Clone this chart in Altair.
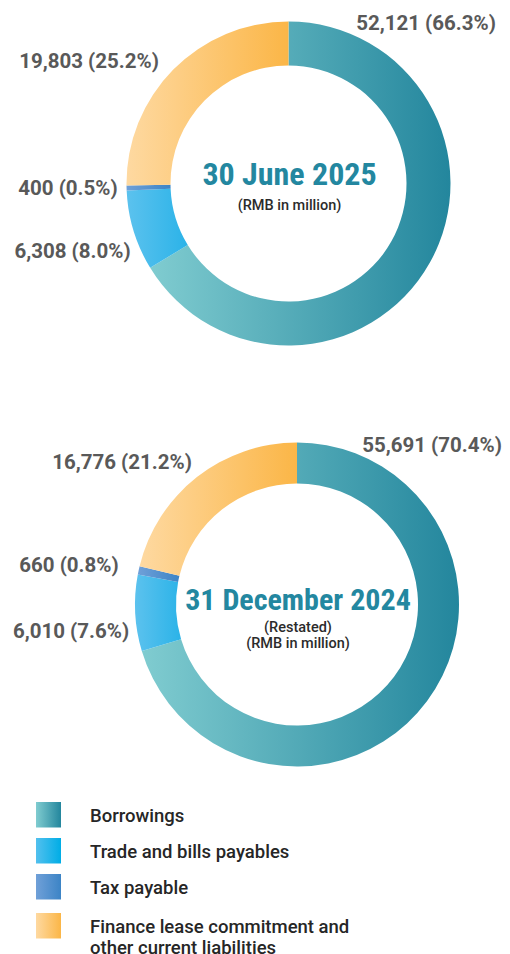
import altair as alt
import pandas as pd

# ---- data ----
categories = [
    "Borrowings",
    "Trade and bills payables",
    "Tax payable",
    "Finance lease commitment and other current liabilities",
]
values_2025 = [52121, 6308, 400, 19803]
values_2024 = [55691, 6010, 660, 16776]
pie_titles = ["30 June 2025", "31 December 2024"]
pie_subtitles = [["(RMB in million)"], ["(Restated)", "(RMB in million)"]]
legend_labels = [
    ["Borrowings"],
    ["Trade and bills payables"],
    ["Tax payable"],
    ["Finance lease commitment and", "other current liabilities"],
]

rows = []
for pie, vals in (("2025", values_2025), ("2024", values_2024)):
    for i, (c, v) in enumerate(zip(categories, vals)):
        rows.append({"pie": pie, "category": c, "order": i, "value": v})
df = pd.DataFrame(rows)

# ---- styles ----
def grad(c0, c1):
    return {
        "gradient": "linear",
        "x1": 0, "y1": 0, "x2": 1, "y2": 0,
        "stops": [{"offset": 0, "color": c0}, {"offset": 1, "color": c1}],
    }

fills = [
    grad("#80ccd0", "#23869d"),
    grad("#5cc2ee", "#2bb3e8"),
    grad("#70a0d8", "#3c84c6"),
    grad("#fed9a1", "#fbb647"),
]
legend_fills = [
    grad("#80ccd0", "#23869d"),
    grad("#52c0ee", "#00ade6"),
    grad("#70a0d8", "#3c84c6"),
    grad("#fed9a1", "#fbb647"),
]

pies = {
    "2025": {"cx": 280.5, "cy": 175.5, "r": 162, "r2": 118,
             "title_y": 177, "title_size": 32, "sub_y": 201.5,
             "labels": [(418, 16), (64.5, 244), (60, 181), (81, 54)]},
    "2024": {"cx": 289, "cy": 596.5, "r": 162, "r2": 121,
             "title_y": 602, "title_size": 30, "sub_y": 623.5,
             "labels": [(424, 438), (63, 624), (61, 558), (114, 455)]},
}

theta_scale = alt.Scale(domain=[0, 1])
label_font = "Roboto"
text_font = "Roboto"
layers = []
for pi, (pie, cfg) in enumerate(pies.items()):
    for i, c in enumerate(categories):
        base = alt.Chart().transform_filter(
            (alt.datum.pie == pie) & (alt.datum.category == c)
        )
        layers.append(
            base.mark_arc(radius=cfg["r"], radius2=cfg["r2"], fill=fills[i]).encode(
                theta=alt.Theta("start:Q", scale=theta_scale),
                theta2="end:Q",
                x=alt.value(cfg["cx"]),
                y=alt.value(cfg["cy"]),
            )
        )
        lx, ly = cfg["labels"][i]
        layers.append(
            base.mark_text(
                font=label_font, fontSize=20.5, fontWeight="bold", color="#595959",
                align="center", baseline="middle",
            ).encode(text="label:N", x=alt.value(lx), y=alt.value(ly))
        )
    one = alt.Chart().transform_filter(
        (alt.datum.pie == pie) & (alt.datum.order == 0)
    )
    layers.append(
        one.mark_text(
            font="Liberation Sans Narrow, Roboto Condensed, Roboto",
            fontSize=cfg["title_size"], fontWeight="bold", color="#2387a0",
            align="center", baseline="alphabetic",
        ).encode(text=alt.value(pie_titles[pi]), x=alt.value(cfg["cx"] + 1),
                 y=alt.value(cfg["title_y"]))
    )
    layers.append(
        one.mark_text(
            font=text_font, fontSize=14.5, fontWeight=500, color="#2b2b2b", lineHeight=16,
            align="center", baseline="alphabetic",
        ).encode(text=alt.value(pie_subtitles[pi]), x=alt.value(cfg["cx"] + 1),
                 y=alt.value(cfg["sub_y"]))
    )

# legend
legend_base = [814, 850, 886, 925]
for i, c in enumerate(categories):
    one = alt.Chart().transform_filter(
        (alt.datum.pie == "2025") & (alt.datum.category == c)
    )
    layers.append(
        one.mark_rect(fill=legend_fills[i]).encode(
            x=alt.value(28), x2=alt.value(53),
            y=alt.value(legend_base[i] - 20), y2=alt.value(legend_base[i] + 5.5),
        )
    )
    layers.append(
        one.mark_text(
            font=text_font, fontSize=18.5, fontWeight=500, color="#262626", lineHeight=20.5,
            align="left", baseline="alphabetic",
        ).encode(text=alt.value(legend_labels[i]), x=alt.value(82),
                 y=alt.value(legend_base[i]))
    )

chart = (
    alt.layer(*layers, data=df)
    .transform_window(
        cum="sum(value)", sort=[alt.SortField("order")], groupby=["pie"],
        frame=[None, 0],
    )
    .transform_joinaggregate(total="sum(value)", groupby=["pie"])
    .transform_calculate(
        start="(datum.cum - datum.value) / datum.total",
        end="datum.cum / datum.total",
        label="format(datum.value, ',') + ' (' + format(datum.value / datum.total, '.1%') + ')'",
    )
    .properties(width=494, height=946, autosize="none", padding=0)
    .configure_view(stroke=None)
)

chart.save("out.html", embed_options={"renderer": "svg", "actions": False})
